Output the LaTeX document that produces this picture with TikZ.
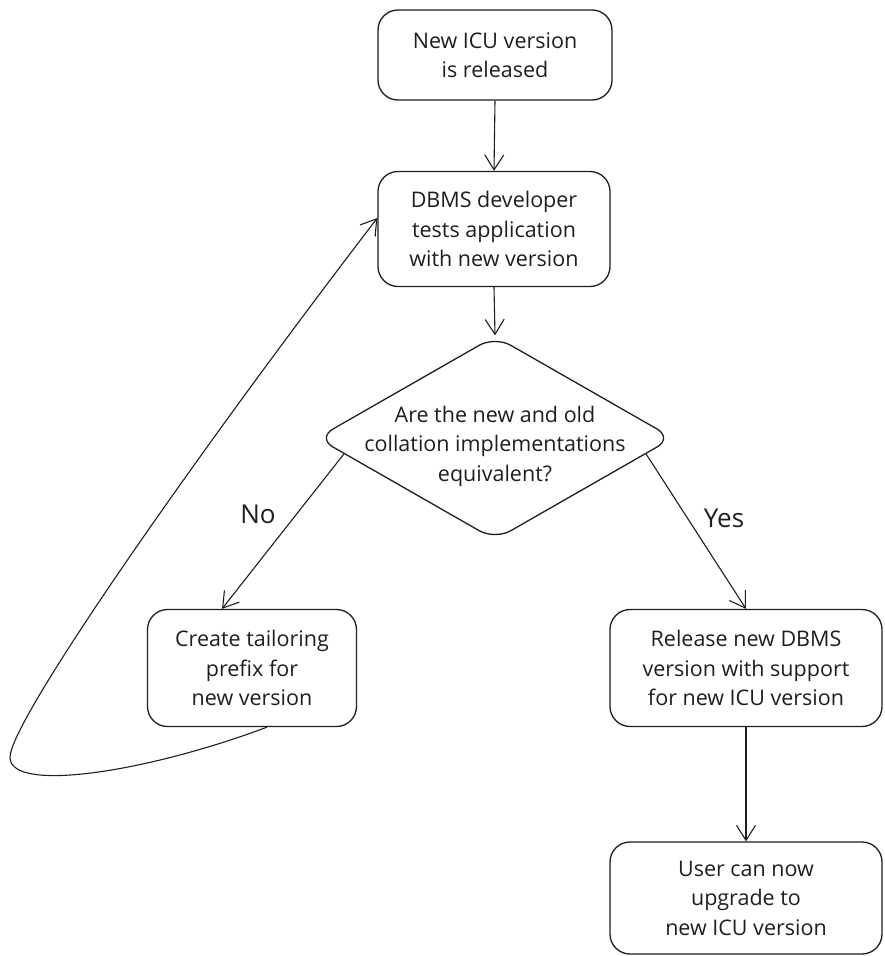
\documentclass[tikz,border=0pt]{standalone}
\usepackage{fontspec}
\setmainfont{Open Sans}
\usetikzlibrary{arrows.meta,shapes.geometric}
\definecolor{ink}{HTML}{1E1E1E}
\begin{document}
\begin{tikzpicture}[x=1pt,y=-1pt,
  every node/.style={text=ink, font=\fontsize{21.5}{29.5}\selectfont},
  card/.style={draw=ink, line width=1.3pt, rounded corners=20pt, align=center, inner sep=0pt},
  arr/.style={draw=ink, line width=1.1pt, -{Straight Barb[length=15pt,width=19pt,line width=1.1pt]}},
  lbl/.style={font=\fontsize{26}{30}\selectfont}]
\useasboundingbox (0,0) rectangle (885,956);

% process boxes
\node[card, minimum width=234pt, minimum height=90pt]  (rel)  at (495,55)  {New ICU version\\is released};
\node[card, minimum width=232pt, minimum height=115pt] (dev)  at (494,229) {DBMS developer\\tests application\\with new version};
\node[draw=ink, line width=1.3pt, shape=diamond, rounded corners=18pt,
      minimum width=356pt, minimum height=204pt, inner sep=0pt] (dec) at (495,438) {};
\node[align=center] (q) at (495,446) {Are the new and old\\collation implementations\\equivalent?};
\node[card, minimum width=209pt, minimum height=117pt] (tail) at (252,668) {Create tailoring\\prefix for\\new version};
\node[card, minimum width=272pt, minimum height=117pt] (ship) at (746,668) {Release new DBMS\\version with support\\for new ICU version};
\node[card, minimum width=272pt, minimum height=112pt] (user) at (746,898) {User can now\\upgrade to\\new ICU version};

% edge labels
\node[lbl] (no)  at (258,514) {No};
\node[lbl] (yes) at (724,518) {Yes};

% connectors
\draw[arr] (rel.south) -- (dev.north);
\draw[arr] (dev.south) -- (dec.north);
\draw[arr] (dec.186) -- ([xshift=-30pt]tail.north);
\draw[arr] (dec.354) -- (ship.north);
\draw[arr] (ship.south) -- (user.north);

% loop back to testing
\coordinate (turn) at (10,758);
\draw[arr] ([xshift=15pt]tail.south) .. controls +(-120,45) and +(2,35) .. (turn)
  .. controls +(-2,-35) and +(-178,232) .. ([yshift=11pt]dev.west);
\end{tikzpicture}
\end{document}
